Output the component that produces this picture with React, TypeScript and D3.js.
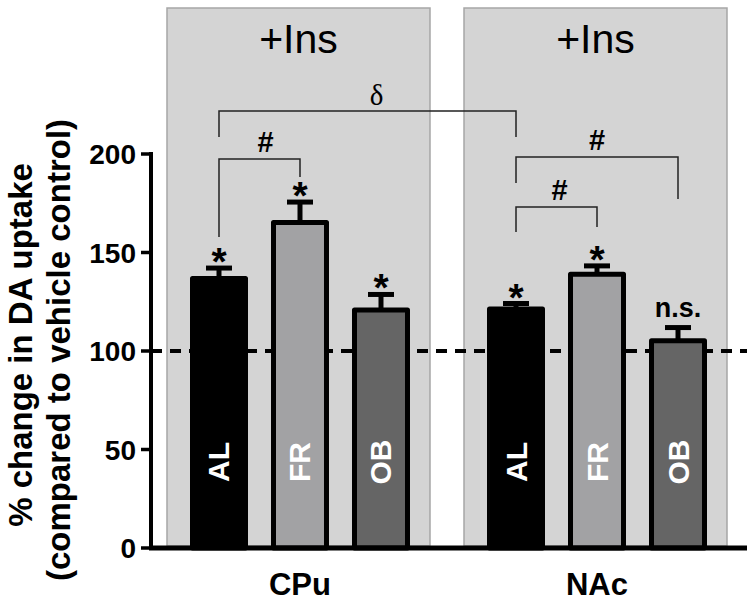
import React from "react";
import * as d3 from "d3";

const regions = ["CPu", "NAc"];
const groups = ["AL", "FR", "OB"];
const meanCPu = [136.8, 165.2, 120.8];
const errCPu = [5.3, 10.4, 7.9];
const meanNAc = [121.3, 139, 105.2];
const errNAc = [2.8, 4.2, 6.7];
const sigCPu = ["*", "*", "*"];
const sigNAc = ["*", "*", "n.s."];
const yTicks = [0, 50, 100, 150, 200];
const panelLabel = "+Ins";
const yTitle1 = "% change in DA uptake";
const yTitle2 = "(compared to vehicle control)";
const baselineValue = 100;
const bracketFrom = [["CPu", "AL"], ["CPu", "AL"], ["NAc", "AL"], ["NAc", "AL"]];
const bracketTo = [["NAc", "AL"], ["CPu", "FR"], ["NAc", "OB"], ["NAc", "FR"]];
const bracketTop = [221.8, 197.5, 198.5, 173.1];
const bracketLegA = [208.6, 157.9, 185.3, 160.4];
const bracketLegB = [208.6, 188.3, 177.2, 162.9];
const bracketLabel = ["δ", "#", "#", "#"];
const bracketLabelDx = [9, 6, 0, 3];

const fills = ["#000000", "#a2a2a4", "#656565"];
const W = 754, H = 602;

export default function App() {
  const y = d3.scaleLinear().domain([0, 200]).range([548, 154]);
  const x0 = d3.scaleBand().domain(regions).range([190, 707]).paddingInner(0.2593);
  const x1 = d3.scaleBand().domain(groups).range([0, x0.bandwidth()]).paddingInner(0.284);
  const bw = x1.bandwidth();
  const cx = (r: string, g: string) => (x0(r) as number) + (x1(g) as number) + bw / 2;
  const means: Record<string, number[]> = { CPu: meanCPu, NAc: meanNAc };
  const errs: Record<string, number[]> = { CPu: errCPu, NAc: errNAc };
  const sigs: Record<string, string[]> = { CPu: sigCPu, NAc: sigNAc };
  const sw = 5;
  const sans = "'Liberation Sans', Arial, sans-serif";

  return (
    <svg width={W} height={H} style={{ position: "absolute", left: 0, top: 0, background: "#fff" }} fontFamily={sans}>
      {regions.map((r) => {
        const px = (x0(r) as number) - 23;
        const pw = x0.bandwidth() + 43;
        return (
          <g key={"p" + r}>
            <rect x={px} y={8} width={pw} height={y(0) - 10} fill="#d4d4d4" stroke="#a6a6a6" strokeWidth={1.5} />
            <text x={px + pw / 2} y={53} textAnchor="middle" fontSize={41} fill="#000">{panelLabel}</text>
          </g>
        );
      })}
      <line x1={151} x2={747} y1={y(baselineValue)} y2={y(baselineValue)} stroke="#000" strokeWidth={4} strokeDasharray="11 8" />
      {regions.map((r) =>
        groups.map((g, i) => {
          const v = means[r][i];
          const e = errs[r][i];
          const c = cx(r, g);
          const xl = (x0(r) as number) + (x1(g) as number);
          const sig = sigs[r][i];
          const capY = y(v + e);
          return (
            <g key={r + g}>
              <line x1={c} x2={c} y1={y(v)} y2={capY} stroke="#000" strokeWidth={5} />
              <line x1={c - 13} x2={c + 13} y1={capY} y2={capY} stroke="#000" strokeWidth={5} />
              <rect x={xl + sw / 2} y={y(v)} width={bw - sw} height={y(0) - y(v)} fill={fills[i]} stroke="#000" strokeWidth={sw} strokeLinejoin="round" />
              <text transform={`translate(${c + 10.5},${462}) rotate(-90)`} textAnchor="middle" fontSize={30} fontWeight="bold" fill="#fff">{g}</text>
              {sig === "*" ? (
                <text x={c} y={capY + 7} textAnchor="middle" fontSize={39} fontWeight="bold" fill="#000">*</text>
              ) : (
                <text x={c} y={capY - 10.5} textAnchor="middle" fontSize={27} fontWeight="bold" fill="#000">{sig}</text>
              )}
            </g>
          );
        })
      )}
      {bracketFrom.map((f, i) => {
        const xa = cx(f[0], f[1]);
        const xb = cx(bracketTo[i][0], bracketTo[i][1]);
        const yt = y(bracketTop[i]);
        const isDelta = bracketLabel[i] === "δ";
        return (
          <g key={"b" + i}>
            <path d={`M${xa},${y(bracketLegA[i])}V${yt}H${xb}V${y(bracketLegB[i])}`} fill="none" stroke="#222" strokeWidth={1.5} />
            <text x={(xa + xb) / 2 + bracketLabelDx[i]} y={yt - (isDelta ? 6 : 7)} textAnchor="middle"
              fontSize={isDelta ? 29 : 29} fontWeight={isDelta ? "normal" : "bold"}
              fontFamily={isDelta ? "'Liberation Serif', 'Times New Roman', serif" : sans} fill="#000">{bracketLabel[i]}</text>
          </g>
        );
      })}
      <line x1={151} x2={151} y1={y(0)} y2={y(200) - 2} stroke="#000" strokeWidth={4} />
      <line x1={149} x2={747} y1={y(0)} y2={y(0)} stroke="#000" strokeWidth={5} />
      {yTicks.map((t) => (
        <g key={"t" + t}>
          <line x1={141} x2={151} y1={y(t)} y2={y(t)} stroke="#000" strokeWidth={3.5} />
          <text x={136} y={y(t)} dy="0.36em" textAnchor="end" fontSize={28} fontWeight="bold" fill="#000">{t}</text>
        </g>
      ))}
      {regions.map((r) => (
        <text key={"c" + r} x={(x0(r) as number) + x0.bandwidth() / 2} y={595} textAnchor="middle" fontSize={31} fontWeight="bold" fill="#000">{r}</text>
      ))}
      <text transform={`translate(32,345) rotate(-90)`} textAnchor="middle" fontSize={33} fontWeight="bold" fill="#000">{yTitle1}</text>
      <text transform={`translate(70,350) rotate(-90)`} textAnchor="middle" fontSize={33} fontWeight="bold" fill="#000">{yTitle2}</text>
    </svg>
  );
}
